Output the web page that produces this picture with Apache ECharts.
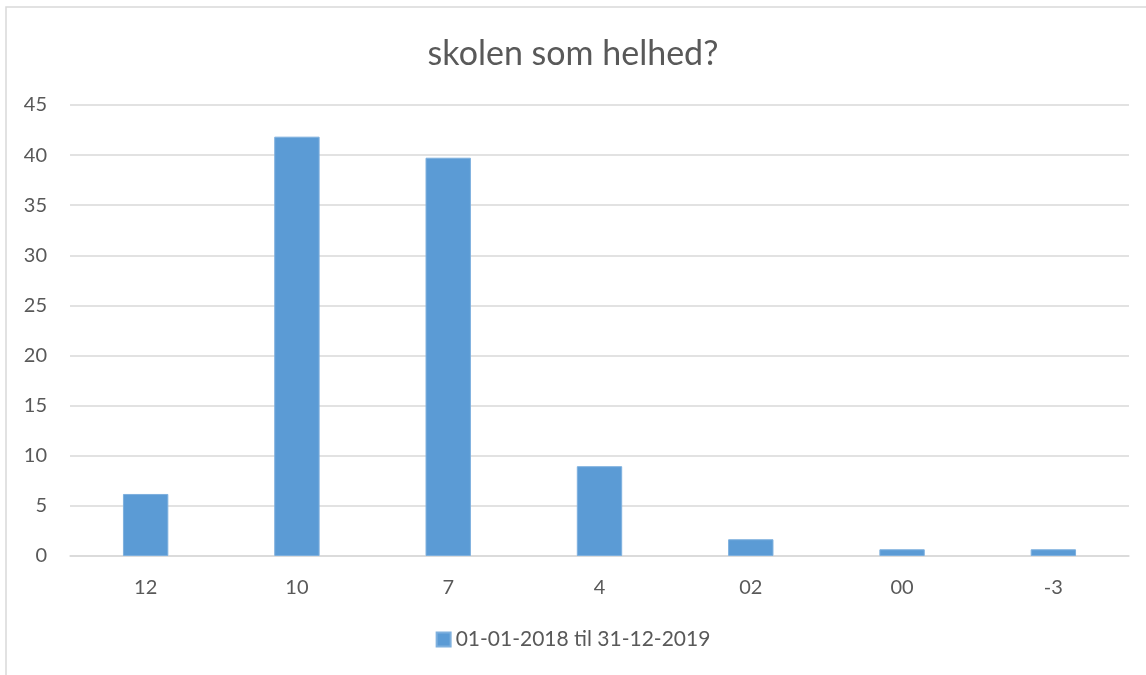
<!DOCTYPE html>
<html>
<head>
<meta charset="utf-8">
<script src="https://cdn.jsdelivr.net/npm/echarts@6/dist/echarts.min.js"></script>
<style>
  html, body { margin: 0; padding: 0; background: #fff; }
  #main { width: 1146px; height: 675px; }
</style>
</head>
<body>
<div id="main"></div>
<script>
// karakterer og andele
var categories = ['12', '10', '7', '4', '02', '00', '-3'];
var values = [6.19, 41.84, 39.74, 8.96, 1.67, 0.67, 0.67];
var seriesName = '01-01-2018 til 31-12-2019';
var titleText = 'skolen som helhed?';

var textColor = '#595959';
var font = 'Lato, "Liberation Sans", sans-serif';

var myChart = echarts.init(document.getElementById('main'));
var option = {
    animation: false,
    title: {
        text: titleText,
        left: 'center',
        top: 32,
        textStyle: {
            color: textColor,
            fontSize: 34,
            fontWeight: 'normal',
            fontFamily: font
        }
    },
    // ramme rundt om diagrammet
    graphic: [{
        type: 'rect',
        shape: { x: 6, y: 7, width: 1200, height: 700 },
        style: { fill: 'none', stroke: '#d9d9d9', lineWidth: 1.5 },
        silent: true
    }],
    legend: {
        bottom: 20,
        left: 'center',
        itemWidth: 14,
        itemHeight: 14,
        itemGap: 10,
        icon: 'rect',
        textStyle: {
            color: textColor,
            fontSize: 21,
            fontFamily: font
        },
        data: [seriesName]
    },
    grid: {
        left: 70,
        right: 17,
        top: 105,
        bottom: 119
    },
    xAxis: {
        type: 'category',
        data: categories,
        axisTick: { show: false },
        axisLine: {
            show: true,
            lineStyle: { color: '#d9d9d9', width: 1.5 }
        },
        axisLabel: {
            color: textColor,
            fontSize: 20,
            fontFamily: font,
            margin: 22
        }
    },
    yAxis: {
        type: 'value',
        min: 0,
        max: 45,
        interval: 5,
        axisLine: { show: false },
        axisTick: { show: false },
        axisLabel: {
            color: textColor,
            fontSize: 20,
            fontFamily: font,
            margin: 23
        },
        splitLine: {
            lineStyle: { color: '#d9d9d9', width: 1.5 }
        }
    },
    series: [{
        name: seriesName,
        type: 'bar',
        barWidth: '30%',
        data: values,
        itemStyle: {
            color: '#5b9bd5',
            borderColor: '#7eb0de',
            borderWidth: 1
        }
    }]
};
myChart.setOption(option);
</script>
</body>
</html>
